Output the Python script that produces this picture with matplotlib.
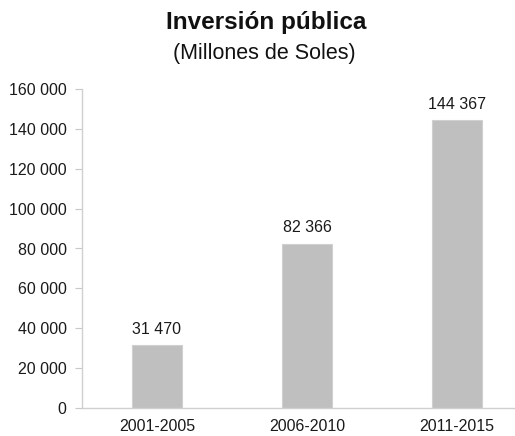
import matplotlib
matplotlib.use("Agg")
import matplotlib.pyplot as plt

periods = ["2001-2005", "2006-2010", "2011-2015"]
values = [31470, 82366, 144367]
yticks = [0, 20000, 40000, 60000, 80000, 100000, 120000, 140000, 160000]

def fmt(v):
    return f"{v:,}".replace(",", " ")

plt.rcParams['font.family'] = ['Liberation Sans', 'DejaVu Sans']

fig = plt.figure(figsize=(5.15, 4.36), dpi=100)
ax = fig.add_axes([82/515, 28/436, 433/515, 319/436])

x = list(range(len(periods)))
ax.bar(x, values, width=0.33, color="#bfbfbf", edgecolor="#d0d0d0", linewidth=0.8, zorder=2)
for xi, v in zip(x, values):
    ax.annotate(fmt(v), (xi, v), xytext=(0, 6), textcoords="offset points",
                ha="center", va="bottom", fontsize=11.5, color="#1a1a1a")

ax.set_xlim(-0.5, 2.387)
ax.set_ylim(0, 160000)
ax.set_yticks(yticks)
ax.set_yticklabels([fmt(t) for t in yticks], fontsize=11.5, color="#1a1a1a")
ax.set_xticks(x)
ax.set_xticklabels(periods, fontsize=11.5, color="#1a1a1a")
ax.tick_params(axis="x", length=0, pad=8)
ax.tick_params(axis="y", length=5, color="#c8c8c8", width=0.8, pad=6)
for s in ["top", "right"]:
    ax.spines[s].set_visible(False)
for s in ["left", "bottom"]:
    ax.spines[s].set_color("#d0d0d0")
    ax.spines[s].set_linewidth(1.0)

fig.text(266/515, 1 - 22/436, "Inversión pública", ha="center", va="center",
         fontsize=17.5, fontweight="bold", color="#111111")
fig.text(264/515, 1 - 53/436, "(Millones de Soles)", ha="center", va="center",
         fontsize=15.5, color="#111111")

fig.savefig("out.png", dpi=100, facecolor="white")
